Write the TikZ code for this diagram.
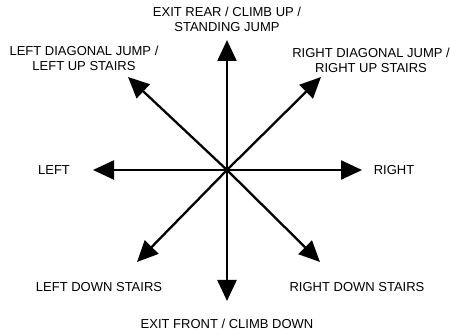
\documentclass[tikz,border=0pt]{standalone}
\usepackage{fontspec}
\setmainfont{Liberation Sans}
\usetikzlibrary{arrows.meta}
\begin{document}
\begin{tikzpicture}[x=1pt,y=-1pt,
  lbl/.style={align=center,inner sep=0pt,font=\fontsize{13}{15}\selectfont},
  arm/.style={line width=2.3pt,-{Triangle[length=21pt,width=19pt]}}]
\useasboundingbox (0,0) rectangle (450,331);
\coordinate (c) at (227,170);
\coordinate (n) at (227,40);
\coordinate (s) at (227,301);
\coordinate (w) at (93,170);
\coordinate (e) at (362,170);
\coordinate (nw) at (128,77);
\coordinate (ne) at (321,77);
\coordinate (sw) at (137,262);
\coordinate (se) at (320,262);
\draw[arm] (c) -- (n);
\draw[arm] (c) -- (s);
\draw[arm] (c) -- (w);
\draw[arm] (c) -- (e);
\draw[arm] (c) -- (nw);
\draw[arm] (c) -- (ne);
\draw[arm] (c) -- (sw);
\draw[arm] (c) -- (se);
\node[lbl] (tn) at (227,19) {EXIT REAR / CLIMB UP /\\STANDING JUMP};
\node[lbl] (tnw) at (84,58) {LEFT DIAGONAL JUMP /\\LEFT UP STAIRS};
\node[lbl] (tne) at (371,60) {RIGHT DIAGONAL JUMP /\\RIGHT UP STAIRS};
\node[lbl] (tw) at (54,170) {LEFT};
\node[lbl] (te) at (394,170) {RIGHT};
\node[lbl] (tsw) at (99,287) {LEFT DOWN STAIRS};
\node[lbl] (tse) at (357,287) {RIGHT DOWN STAIRS};
\node[lbl] (ts) at (227,324) {EXIT FRONT / CLIMB DOWN};
\end{tikzpicture}
\end{document}
